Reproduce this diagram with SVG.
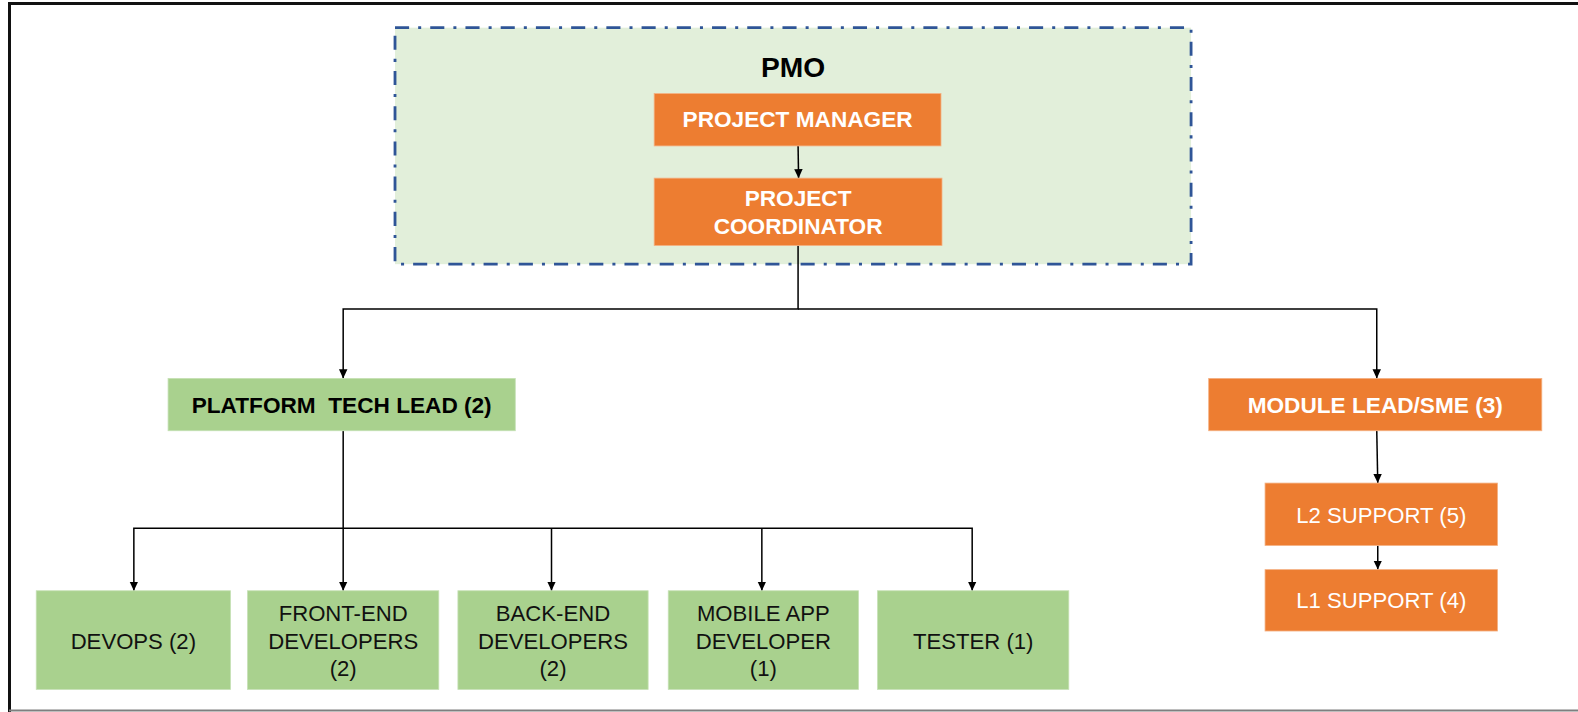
<svg xmlns="http://www.w3.org/2000/svg" width="1578" height="712" viewBox="0 0 1578 712">
<style>
.orange{fill:#ED7D31;stroke:#F4B183;stroke-width:0.8}
.green{fill:#A9D18E;stroke:#C5E0B4;stroke-width:0.8}
.t{font-family:"Liberation Sans",Arial,sans-serif;text-anchor:middle;dominant-baseline:central}
.bw{font-weight:bold;font-size:22.5px;fill:#fff}
.bk{font-weight:bold;font-size:22.5px;fill:#000}
.rw{font-size:22px;fill:#fff}
.rk{font-size:22px;fill:#111}
.conn{fill:none;stroke:#000;stroke-width:1.5}
</style>
<defs>
<marker id="arr" markerUnits="userSpaceOnUse" markerWidth="10" markerHeight="10" refX="9" refY="5" orient="auto">
<path d="M0,0.8 L9,5 L0,9.2 z" fill="#000"/>
</marker>
</defs>
<rect width="1578" height="712" fill="#fff"/>
<g id="frame" fill="none">
<path d="M9.5,712 V3.5 H1578" stroke="#111" stroke-width="3"/>
<path d="M9,710.5 H1578" stroke="#7f7f7f" stroke-width="2"/>
</g>
<g id="content" transform="scale(1.0064)">
<g id="pmo">
<rect x="392.5" y="27.5" width="791" height="235" fill="#E2EFDA" stroke="#2F5597" stroke-width="2.8" stroke-dasharray="14 9 3 9"/>
<text class="t" x="788" y="67" style="font-weight:bold;font-size:28px;fill:#000">PMO</text>
</g>
<g id="connectors">
<path class="conn" d="M793,145 L793.5,177" marker-end="url(#arr)"/>
<path class="conn" d="M793,244 V307 H341 V376" marker-end="url(#arr)"/>
<path class="conn" d="M793,307 H1368 V376" marker-end="url(#arr)"/>
<path class="conn" d="M341,428 V587" marker-end="url(#arr)"/>
<path class="conn" d="M341,525 H133 V587" marker-end="url(#arr)"/>
<path class="conn" d="M341,525 H966 V587" marker-end="url(#arr)"/>
<path class="conn" d="M548,525 V587" marker-end="url(#arr)"/>
<path class="conn" d="M757,525 V587" marker-end="url(#arr)"/>
<path class="conn" d="M1368,428 L1369,480" marker-end="url(#arr)"/>
<path class="conn" d="M1369,542 V566" marker-end="url(#arr)"/>
</g>
<g id="project-manager">
<rect class="orange" x="650" y="93" width="285" height="52"/>
<text class="t bw" x="792.5" y="119">PROJECT MANAGER</text>
</g>
<g id="project-coordinator">
<rect class="orange" x="650" y="177" width="286" height="67"/>
<text class="t bw" x="793" y="197">PROJECT</text>
<text class="t bw" x="793" y="225">COORDINATOR</text>
</g>
<g id="platform-tech-lead">
<rect class="green" x="167" y="376" width="345" height="52"/>
<text class="t bk" x="339.5" y="403" xml:space="preserve">PLATFORM  TECH LEAD (2)</text>
</g>
<g id="module-lead">
<rect class="orange" x="1201" y="376" width="331" height="52"/>
<text class="t bw" x="1366.5" y="403">MODULE LEAD/SME (3)</text>
</g>
<g id="l2-support">
<rect class="orange" x="1257" y="480" width="231" height="62"/>
<text class="t rw" x="1372.5" y="512">L2 SUPPORT (5)</text>
</g>
<g id="l1-support">
<rect class="orange" x="1257" y="566" width="231" height="61"/>
<text class="t rw" x="1372.5" y="597">L1 SUPPORT (4)</text>
</g>
<g id="devops">
<rect class="green" x="36" y="587" width="193" height="98"/>
<text class="t rk" x="132.5" y="637">DEVOPS (2)</text>
</g>
<g id="front-end">
<rect class="green" x="246" y="587" width="190" height="98"/>
<text class="t rk" x="341" y="610">FRONT-END</text>
<text class="t rk" x="341" y="637">DEVELOPERS</text>
<text class="t rk" x="341" y="664">(2)</text>
</g>
<g id="back-end">
<rect class="green" x="455" y="587" width="189" height="98"/>
<text class="t rk" x="549.5" y="610">BACK-END</text>
<text class="t rk" x="549.5" y="637">DEVELOPERS</text>
<text class="t rk" x="549.5" y="664">(2)</text>
</g>
<g id="mobile-app">
<rect class="green" x="664" y="587" width="189" height="98"/>
<text class="t rk" x="758.5" y="610">MOBILE APP</text>
<text class="t rk" x="758.5" y="637">DEVELOPER</text>
<text class="t rk" x="758.5" y="664">(1)</text>
</g>
<g id="tester">
<rect class="green" x="872" y="587" width="190" height="98"/>
<text class="t rk" x="967" y="637">TESTER (1)</text>
</g>
</g>
</svg>
